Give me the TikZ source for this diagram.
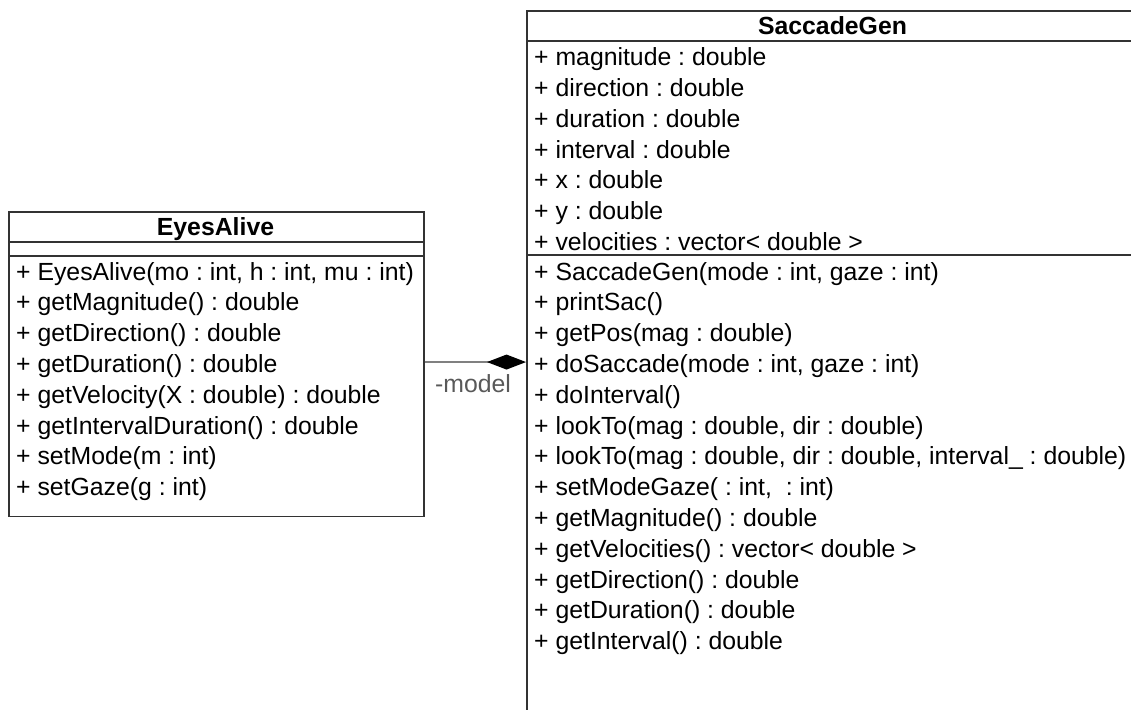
\documentclass[tikz,border=0pt]{standalone}
\usepackage{fontspec}
\setmainfont{Liberation Sans}
\usetikzlibrary{arrows.meta}
\frenchspacing

\begin{document}
\begin{tikzpicture}[x=1pt,y=-1pt,
  classbox/.style={draw=black!80, line width=1.6pt, fill=white, inner sep=0pt, anchor=north west},
  sepline/.style={draw=black!80, line width=1.6pt},
  member/.style={anchor=base west, inner sep=0pt, font=\fontsize{24.8}{30}\selectfont},
  classname/.style={anchor=base, inner sep=0pt, font=\fontsize{24.8}{30}\selectfont\bfseries},
  assoc/.style={draw=black!50, line width=1.5pt},
  rolelabel/.style={anchor=base west, inner sep=0pt, text=black!65, font=\fontsize{24.8}{30}\selectfont}]
\useasboundingbox (0,0) rectangle (1131,709);

% class frames
\node[classbox, minimum width=415pt, minimum height=304.5pt] (ea) at (8,211) {};
\node[classbox, minimum width=613pt, minimum height=720pt] (sg) at (526,10) {};

% EyesAlive: name, empty attribute compartment, operations
\node[classname] (eaname) at (215.5,235.5) {EyesAlive};
\draw[sepline] (8,242) -- (423,242);
\draw[sepline] (8,256) -- (423,256);
\foreach \t [count=\i from 0] in {
  {+ EyesAlive(mo : int, h : int, mu : int)},
  {+ getMagnitude() : double},
  {+ getDirection() : double},
  {+ getDuration() : double},
  {+ getVelocity(X : double) : double},
  {+ getIntervalDuration() : double},
  {+ setMode(m : int)},
  {+ setGaze(g : int)}}
  \node[member] (eaop\i) at (16,{280+30.8*\i}) {\t};

% SaccadeGen: name, attributes, operations
\node[classname] (sgname) at (832.5,34.5) {SaccadeGen};
\draw[sepline] (526,41) -- (1139,41);
\foreach \t [count=\i from 0] in {
  {+ magnitude : double},
  {+ direction : double},
  {+ duration : double},
  {+ interval : double},
  {+ x : double},
  {+ y : double},
  {+ velocities : vector< double >}}
  \node[member] (sgattr\i) at (534,{66+30.7*\i}) {\t};
\draw[sepline] (526,255) -- (1139,255);
\foreach \t [count=\i from 0] in {
  {+ SaccadeGen(mode : int, gaze : int)},
  {+ printSac()},
  {+ getPos(mag : double)},
  {+ doSaccade(mode : int, gaze : int)},
  {+ doInterval()},
  {+ lookTo(mag : double, dir : double)},
  {+ lookTo(mag : double, dir : double, interval\_ : double)},
  {+ setModeGaze( : int,\ \ : int)},
  {+ getMagnitude() : double},
  {+ getVelocities() : vector< double >},
  {+ getDirection() : double},
  {+ getDuration() : double},
  {+ getInterval() : double}}
  \node[member] (sgop\i) at (534,{280+30.8*\i}) {\t};

% composition: EyesAlive -> SaccadeGen
\draw[assoc, -{Diamond[length=39pt,width=15pt,black]}]
  ([yshift=2pt]ea.east) -- ([yshift=2pt]ea.east -| sg.west);
\node[rolelabel] (role) at (435,392) {-model};
\end{tikzpicture}
\end{document}
